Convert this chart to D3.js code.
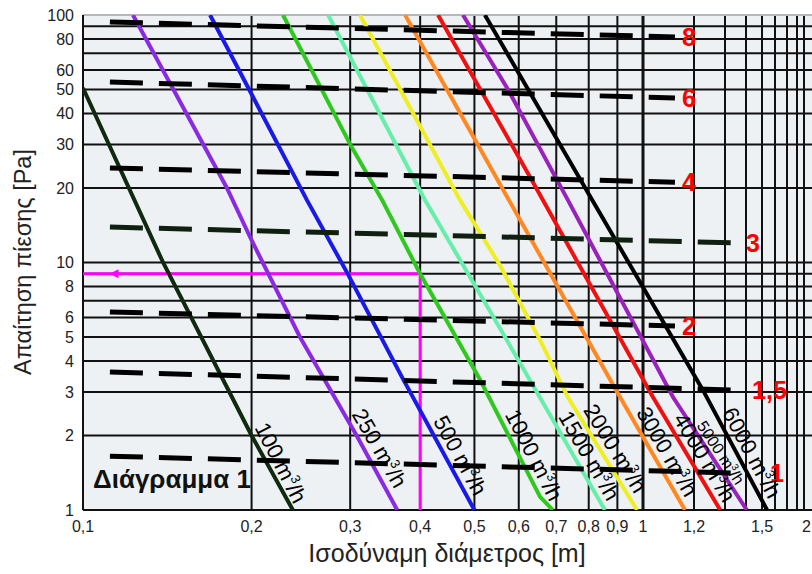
<!DOCTYPE html>
<html>
<head>
<meta charset="utf-8">
<script src="https://cdn.jsdelivr.net/npm/d3@7"></script>
<style>
  body { margin: 0; background: #fff; }
  text { font-family: "Liberation Sans", Arial, sans-serif; }
</style>
</head>
<body>
<svg id="chart" width="812" height="574"></svg>
<script>
// flow lines: [diameter m, pressure Pa]
const flowNames = ['100', '250', '500', '1000', '1500', '2000', '3000', '4000', '5000', '6000'];
const flow100  = [[0.1, 50.7], [0.139, 10], [0.2, 2], [0.237, 1]];
const flow250  = [[0.1228, 100], [0.1807, 20], [0.2, 12.3], [0.244, 5], [0.308, 2], [0.364, 1]];
const flow500  = [[0.1686, 100], [0.198, 50], [0.251, 17.9], [0.297, 9], [0.371, 3.45], [0.5, 1]];
const flow1000 = [[0.2276, 100], [0.3, 30], [0.342, 17.9], [0.4, 9], [0.512, 3.35], [0.655, 1.13], [0.69, 1]];
const flow1500 = [[0.274, 100], [0.408, 17.9], [0.555, 5.44], [0.628, 3.35], [0.855, 1]];
const flow2000 = [[0.3124, 100], [0.471, 17.9], [0.555, 9.77], [0.655, 4.86], [0.734, 2.86], [0.976, 1]];
const flow3000 = [[0.376, 100], [0.576, 17.9], [0.899, 3], [1.162, 1]];
const flow4000 = [[0.4305, 100], [0.628, 22.2], [1.036, 2.86], [1.284, 1]];
const flow5000 = [[0.477, 100], [0.574, 50], [0.734, 17.9], [1.113, 2.86], [1.405, 1]];
const flow6000 = [[0.522, 100], [0.798, 19.1], [1.228, 3.05], [1.538, 1]];
const flowLines = [flow100, flow250, flow500, flow1000, flow1500, flow2000, flow3000, flow4000, flow5000, flow6000];
const flowLabelPa = [2.1, 2.37, 2.23, 2.37, 2.32, 2.46, 2.41, 2.27, 2.15, 2.41];

// velocity lines (m/s): start and end [diameter, Pa]
const velocityNames = ['8', '6', '4', '3', '2', '1,5', '1'];
const velocityLines = [
  [[0.1117, 93.7], [1.121, 81.5]],
  [[0.1117, 53.6], [1.121, 46.2]],
  [[0.1117, 24.1], [1.121, 21.1]],
  [[0.1117, 13.9], [1.36, 12.0]],
  [[0.1117, 6.31], [1.121, 5.54]],
  [[0.1117, 3.61], [1.36, 3.05]],
  [[0.1117, 1.65], [1.36, 1.41]]
];
const velocityLabelD = [1.15, 1.15, 1.15, 1.4, 1.15, 1.437, 1.56];

// example reading: 1000 m3/h at 0.4 m -> 9 Pa
const exampleD = 0.4, examplePa = 9;

const xTicks = [0.1, 0.2, 0.3, 0.4, 0.5, 0.6, 0.7, 0.8, 0.9, 1, 1.2, 1.5, 2];
const xGrid = [0.2, 0.3, 0.4, 0.5, 0.6, 0.7, 0.8, 0.9, 1, 1.2, 1.3, 1.4, 1.5, 1.6, 1.7, 1.8, 1.9];
const yTicks = [1, 2, 3, 4, 5, 6, 8, 10, 20, 30, 40, 50, 60, 80, 100];
const yGrid = [2, 3, 4, 5, 6, 7, 8, 9, 10, 20, 30, 40, 50, 60, 70, 80, 90];

const flowColors = ['#0f2a0f', '#8a2be2', '#1a1ae6', '#2ec81e', '#66eeaa', '#eeee22', '#ff8822', '#ee1111', '#9922bb', '#000000'];
const velocityColors = ['#000', '#000', '#000', '#102010', '#000', '#000', '#000'];

const svg = d3.select('#chart');
const pLeft = 83, pRight = 812, pTop = 15, pBottom = 510;

// the printed chart is stretched differently above 1 m, so piecewise log
const x = d3.scaleLog()
  .domain([0.1, 1, 1.2, 1.3, 1.4, 1.5, 1.6, 1.7, 1.8, 1.9, 2])
  .range([pLeft, 643, 694, 725, 746, 762, 775, 787, 797, 804, 811]);
const y = d3.scaleLog().domain([1, 100]).range([pBottom, pTop]);

svg.append('defs').append('clipPath').attr('id', 'plotclip')
  .append('rect').attr('x', pLeft).attr('y', pTop).attr('width', pRight - pLeft).attr('height', pBottom - pTop);

svg.append('rect')
  .attr('x', pLeft).attr('y', pTop).attr('width', pRight - pLeft).attr('height', pBottom - pTop)
  .attr('fill', '#edf1f4');

const grid = svg.append('g');
grid.selectAll('line.h').data(yGrid).enter().append('line')
  .attr('x1', pLeft).attr('x2', pRight)
  .attr('y1', d => y(d)).attr('y2', d => y(d))
  .attr('stroke', '#111').attr('stroke-width', 2);
grid.selectAll('line.v').data(xGrid).enter().append('line')
  .attr('y1', pTop).attr('y2', pBottom)
  .attr('x1', d => x(d)).attr('x2', d => x(d))
  .attr('stroke', '#111').attr('stroke-width', d => d === 1 ? 3 : 2);

// frame
svg.append('line').attr('x1', pLeft).attr('x2', pRight).attr('y1', pTop).attr('y2', pTop)
  .attr('stroke', '#b4b8bb').attr('stroke-width', 2);
svg.append('line').attr('x1', pLeft).attr('x2', pRight).attr('y1', pBottom).attr('y2', pBottom)
  .attr('stroke', '#111').attr('stroke-width', 2);
svg.append('line').attr('x1', pLeft).attr('x2', pLeft).attr('y1', pTop).attr('y2', pBottom)
  .attr('stroke', '#111').attr('stroke-width', 2);

const plot = svg.append('g').attr('clip-path', 'url(#plotclip)');

// magenta example path
plot.append('path')
  .attr('d', `M${x(exampleD)},${y(1)}V${y(examplePa)}H${pLeft}`)
  .attr('fill', 'none').attr('stroke', '#ff00ff').attr('stroke-width', 3);
const ax = x(0.1115), ay = y(examplePa);
plot.append('path')
  .attr('d', `M${ax},${ay}L${ax + 9},${ay - 4.5}L${ax + 9},${ay + 4.5}Z`)
  .attr('fill', '#ff00ff');

const line = d3.line().x(d => x(d[0])).y(d => y(d[1]));

plot.selectAll('path.flow').data(flowLines).enter().append('path')
  .attr('class', 'flow')
  .attr('d', line)
  .attr('fill', 'none')
  .attr('stroke', (d, i) => flowColors[i])
  .attr('stroke-width', 4);

plot.selectAll('path.vel').data(velocityLines).enter().append('path')
  .attr('class', 'vel')
  .attr('d', line)
  .attr('fill', 'none')
  .attr('stroke', (d, i) => velocityColors[i])
  .attr('stroke-width', 5)
  .attr('stroke-dasharray', '33,16');

// velocity labels
svg.selectAll('text.vlab').data(velocityLines).enter().append('text')
  .attr('x', (d, i) => x(velocityLabelD[i]))
  .attr('y', d => y(d[1][1]))
  .attr('dy', '0.36em')
  .attr('fill', '#ff0000')
  .attr('font-weight', 'bold')
  .attr('font-size', 25)
  .text((d, i) => velocityNames[i]);

// flow labels rotated along their lines
function anchorOn(pts, pa) {
  const p = pts.map(d => [x(d[0]), y(d[1])]);
  const py = y(pa);
  for (let k = 0; k < p.length - 1; k++) {
    if (py >= p[k][1] && py <= p[k + 1][1]) {
      const t = (py - p[k][1]) / (p[k + 1][1] - p[k][1]);
      const ang = Math.atan2(p[k + 1][1] - p[k][1], p[k + 1][0] - p[k][0]);
      return [p[k][0] + t * (p[k + 1][0] - p[k][0]), py, ang];
    }
  }
  return [p[0][0], py, Math.PI / 3];
}

flowLines.forEach(function(pts, i){
  const a = anchorOn(pts, flowLabelPa[i]);
  const small = flowNames[i] === '5000';
  const off = small ? 4 : 6;
  const tx = a[0] + off * Math.sin(a[2]), ty = a[1] - off * Math.cos(a[2]);
  const fs = small ? 16 : 22;
  const t = svg.append('text')
    .attr('transform', `translate(${tx},${ty}) rotate(${a[2] * 180 / Math.PI})`)
    .attr('font-size', fs)
    .attr('fill', '#000');
  t.append('tspan').text(flowNames[i] + ' m');
  t.append('tspan').attr('font-size', fs * 0.6).attr('dy', -fs * 0.4).text('3');
  t.append('tspan').attr('dy', fs * 0.4).text('/h');
});

// diagram title
svg.append('text')
  .attr('x', 93).attr('y', 488)
  .attr('font-size', 26).attr('font-weight', 'bold')
  .attr('fill', '#111')
  .text('Διάγραμμα 1');

// tick labels
svg.selectAll('text.xt').data(xTicks).enter().append('text')
  .attr('x', d => x(d)).attr('y', 532)
  .attr('text-anchor', d => d === 2 ? 'end' : 'middle')
  .attr('font-size', 16).attr('fill', '#222')
  .text(d => String(d).replace('.', ','));
svg.selectAll('text.yt').data(yTicks).enter().append('text')
  .attr('x', 74).attr('y', d => y(d)).attr('dy', '0.36em')
  .attr('text-anchor', 'end')
  .attr('font-size', 16).attr('fill', '#222')
  .text(d => d);

// axis titles
svg.append('text')
  .attr('x', 447).attr('y', 562)
  .attr('text-anchor', 'middle')
  .attr('font-size', 25).attr('fill', '#222')
  .text('Ισοδύναμη διάμετρος [m]');
svg.append('text')
  .attr('transform', 'translate(31,262) rotate(-90)')
  .attr('text-anchor', 'middle')
  .attr('font-size', 23.5).attr('fill', '#222')
  .text('Απαίτηση πίεσης [Pa]');
</script>
</body>
</html>
